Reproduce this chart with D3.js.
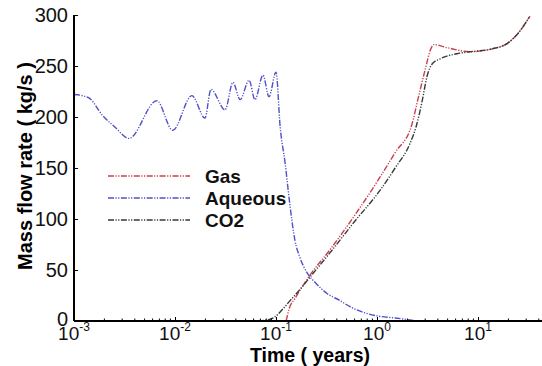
<!DOCTYPE html>
<html>
<head>
<meta charset="utf-8">
<script src="https://cdn.jsdelivr.net/npm/d3@7"></script>
<style>
  body { margin: 0; background: #fff; }
  svg { display: block; font-family: "Liberation Sans", Arial, sans-serif; }
</style>
</head>
<body>
<div id="chart"></div>
<script>
// time in years, rates in kg/s
const aqueousTime = [0.001, 0.0012, 0.00144, 0.0019, 0.00255, 0.0035, 0.0066, 0.0095, 0.0147, 0.0198, 0.0227,
  0.0313, 0.0375, 0.0441, 0.0541, 0.0619, 0.0743, 0.0853, 0.100, 0.110, 0.123, 0.138, 0.154, 0.173,
  0.207, 0.243, 0.320, 0.431, 0.541, 1.0, 1.51, 2.12, 2.55];
const aqueousRate = [222, 221, 218, 202, 190, 179, 216, 187, 221, 199, 227,
  207, 234, 217, 236, 217, 241, 220, 244, 190, 155, 112, 79, 62,
  46, 38, 27, 20, 14, 5, 3, 1, 0];

const gasTime = [0.126, 0.135, 0.154, 0.217, 0.343, 0.605, 1.07, 1.51, 2.22, 2.55, 2.99, 3.42, 3.66,
  4.93, 8.34, 14.1, 19.4, 24.9, 32.7];
const gasRate = [0, 12, 22, 45, 70, 104, 141, 165, 193, 218, 246, 267, 271,
  268, 264, 267, 272, 282, 299];

const co2Time = [0.0619, 0.0815, 0.0977, 0.115, 0.138, 0.173, 0.217, 0.343, 0.605, 1.07, 1.51, 2.12, 2.43,
  2.79, 3.13, 3.51, 4.21, 6.19, 8.34, 14.1, 19.4, 24.9, 32.7];
const co2Rate = [0, 1, 4, 11, 20, 31, 43, 67, 98, 128, 150, 174, 190,
  215, 240, 252, 257, 262, 264, 267, 272, 282, 299];

const xMajor = [1e-3, 1e-2, 1e-1, 1e0, 1e1];
const xExp = ['-3', '-2', '-1', '0', '1'];
const yTicks = [0, 50, 100, 150, 200, 250, 300];

const series = [
  { name: 'Gas', color: '#c8404f', time: gasTime, rate: gasRate },
  { name: 'Aqueous', color: '#5050c8', time: aqueousTime, rate: aqueousRate },
  { name: 'CO2', color: '#383838', time: co2Time, rate: co2Rate },
];

const width = 542, height = 366;
const margin = { left: 74, top: 15, bottom: 45 };

const svg = d3.select('#chart').append('svg')
  .attr('width', width).attr('height', height);

const x = d3.scaleLog().domain([1e-3, 43]).range([margin.left, width]);
const y = d3.scaleLinear().domain([0, 300]).range([height - margin.bottom, margin.top]);

// lines
const line = d3.line().x(d => x(d[0])).y(d => y(d[1])).curve(d3.curveMonotoneX);
const dash = '6,1.5,1.2,1.5,1.2,1.5';

svg.selectAll('path.series')
  .data(series).join('path')
  .attr('class', 'series')
  .attr('d', s => line(s.time.map((t, i) => [t, s.rate[i]])))
  .attr('fill', 'none').attr('stroke', s => s.color)
  .attr('stroke-width', 1.4).attr('stroke-dasharray', dash);

// x axis
const minor = [];
for (let e = -3; e <= 1; e++) for (let k = 2; k <= 9; k++) {
  const v = k * Math.pow(10, e);
  if (v <= 43) minor.push(v);
}
const gx = svg.append('g').attr('transform', `translate(0,${y(0)})`);
gx.call(d3.axisBottom(x).tickValues(xMajor).tickSize(-4).tickFormat(''));
minor.forEach(v => {
  gx.append('line').attr('x1', x(v)).attr('x2', x(v)).attr('y1', 0).attr('y2', -2.5)
    .attr('stroke', '#000').attr('stroke-width', 1);
});
gx.select('.domain').attr('stroke-width', 2).attr('d', `M${margin.left},0H${width}`);

xMajor.forEach((v, i) => {
  const t = svg.append('text')
    .attr('x', x(v)).attr('y', 340)
    .attr('text-anchor', 'middle').attr('font-size', 19).attr('fill', '#111');
  t.append('tspan').text('10');
  t.append('tspan').attr('dy', -9).attr('font-size', 12).text(xExp[i]);
});

// y axis
const gy = svg.append('g').attr('transform', `translate(${margin.left},0)`);
gy.call(d3.axisLeft(y).tickValues(yTicks).tickSize(-4).tickFormat(''));
gy.select('.domain').attr('stroke-width', 2).attr('d', `M0,${y(300)}V${y(0)}`);

yTicks.forEach(v => {
  svg.append('text')
    .attr('x', 68).attr('y', v === 0 ? y(v) - 2 : y(v)).attr('dy', '0.36em')
    .attr('text-anchor', 'end').attr('font-size', 20).attr('fill', '#111')
    .text(v);
});

// axis titles
svg.append('text')
  .attr('x', 310).attr('y', 362)
  .attr('text-anchor', 'middle').attr('font-size', 19.5).attr('font-weight', 'bold')
  .text('Time ( years)');

svg.append('text')
  .attr('transform', 'translate(32,166) rotate(-90)')
  .attr('text-anchor', 'middle').attr('font-size', 20).attr('font-weight', 'bold')
  .text('Mass flow rate ( kg/s )');

// legend
const legend = svg.append('g');
series.forEach((s, i) => {
  const ly = 176 + i * 22;
  legend.append('line')
    .attr('x1', 108).attr('x2', 190).attr('y1', ly).attr('y2', ly)
    .attr('stroke', s.color).attr('stroke-width', 1.4).attr('stroke-dasharray', dash);
  legend.append('text')
    .attr('x', 205).attr('y', ly + 6.5)
    .attr('font-size', 19).attr('font-weight', 'bold').attr('fill', '#111')
    .text(s.name);
});
</script>
</body>
</html>
